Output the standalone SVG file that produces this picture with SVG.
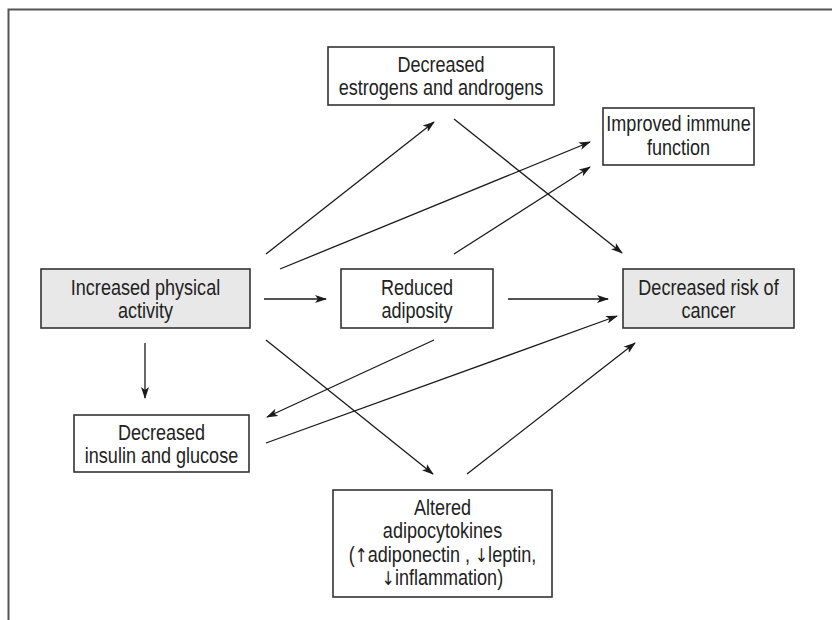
<svg xmlns="http://www.w3.org/2000/svg" width="832" height="620" viewBox="0 0 832 620">
<defs>
<marker id="ah" viewBox="0 0 12 8" refX="11" refY="4" markerWidth="12" markerHeight="8" markerUnits="userSpaceOnUse" orient="auto">
<path d="M0,0 L12,4 L0,8 L3,4 z" fill="#1a1a1a"/>
</marker>
<style>
.box{fill:#fff;stroke:#333;stroke-width:1.6}
.gray{fill:#e8e8e8}
.t{font-family:"Liberation Sans",Arial,sans-serif;font-size:22px;fill:#222;text-anchor:middle}
.ar{font-family:"DejaVu Sans",sans-serif;font-size:19px;fill:#222}
.c line{stroke:#1a1a1a;stroke-width:1.3;marker-end:url(#ah)}
.frame{fill:none;stroke:#555;stroke-width:2}
</style>
</defs>
<rect width="832" height="620" fill="#fff"/>
<path class="frame" d="M8.5,620 V9.5 H832"/>
<g id="estrogens">
<rect class="box" x="328" y="47" width="226" height="58"/>
<text class="t" transform="translate(441,72) scale(0.82,1)">Decreased</text>
<text class="t" transform="translate(441,95) scale(0.82,1)">estrogens and androgens</text>
</g>
<g id="immune">
<rect class="box" x="603" y="108" width="151" height="57"/>
<text class="t" transform="translate(678.5,131) scale(0.82,1)">Improved immune</text>
<text class="t" transform="translate(678.5,155) scale(0.82,1)">function</text>
</g>
<g id="activity">
<rect class="box gray" x="41" y="269" width="209" height="59"/>
<text class="t" transform="translate(145.5,295) scale(0.82,1)">Increased physical</text>
<text class="t" transform="translate(145.5,318) scale(0.82,1)">activity</text>
</g>
<g id="adiposity">
<rect class="box" x="341" y="269" width="152" height="59"/>
<text class="t" transform="translate(417,295) scale(0.82,1)">Reduced</text>
<text class="t" transform="translate(417,318) scale(0.82,1)">adiposity</text>
</g>
<g id="cancer">
<rect class="box gray" x="623" y="269" width="171" height="59"/>
<text class="t" transform="translate(708.5,295) scale(0.82,1)">Decreased risk of</text>
<text class="t" transform="translate(708.5,318) scale(0.82,1)">cancer</text>
</g>
<g id="insulin">
<rect class="box" x="74" y="415" width="175" height="57"/>
<text class="t" transform="translate(161.5,440) scale(0.82,1)">Decreased</text>
<text class="t" transform="translate(161.5,463) scale(0.82,1)">insulin and glucose</text>
</g>
<g id="adipocytokines">
<rect class="box" x="333" y="490" width="219" height="107"/>
<text class="t" transform="translate(442.5,515) scale(0.82,1)">Altered</text>
<text class="t" transform="translate(442.5,538) scale(0.82,1)">adipocytokines</text>
<text class="t" transform="translate(442.5,562) scale(0.82,1)">(<tspan class="ar">↑</tspan>adiponectin , <tspan class="ar">↓</tspan>leptin,</text>
<text class="t" transform="translate(442.5,585) scale(0.82,1)"><tspan class="ar">↓</tspan>inflammation)</text>
</g>
<g class="c" id="connectors">
<line x1="266" y1="254" x2="434" y2="122"/>
<line x1="280" y1="269" x2="590" y2="142"/>
<line x1="454" y1="254" x2="590" y2="167"/>
<line x1="454" y1="119" x2="622" y2="253"/>
<line x1="264" y1="299" x2="326" y2="299"/>
<line x1="508" y1="299" x2="608" y2="299"/>
<line x1="145" y1="343" x2="145" y2="398"/>
<line x1="266" y1="340" x2="433" y2="474"/>
<line x1="434" y1="340" x2="267" y2="417"/>
<line x1="266" y1="443" x2="617" y2="316"/>
<line x1="467" y1="474" x2="635" y2="343"/>
</g>
</svg>
